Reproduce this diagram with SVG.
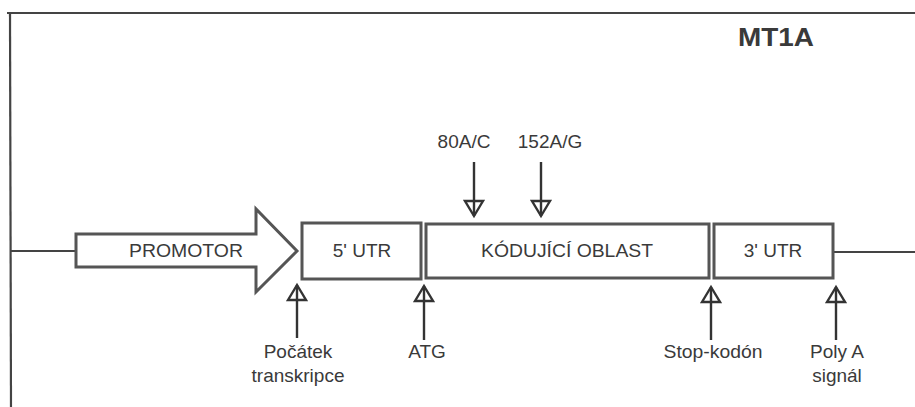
<svg xmlns="http://www.w3.org/2000/svg" width="915" height="407" viewBox="0 0 915 407">
<style>
.ln{stroke:#444;stroke-width:2.2;fill:none}
.bx{stroke:#555;stroke-width:3;fill:#fff}
.t{font-family:"Liberation Sans",Arial,sans-serif;font-size:19px;fill:#3a3a3a;text-anchor:middle}
.ar{stroke:#333;stroke-width:2.4;fill:none;marker-end:url(#hd)}
</style>
<defs>
<marker id="hd" markerUnits="userSpaceOnUse" viewBox="0 0 22 22" refX="18" refY="11" markerWidth="22" markerHeight="22" orient="auto">
<path d="M3,2 L18,11 L3,20 Z" fill="none" stroke="#333" stroke-width="2.4" stroke-linejoin="miter"/>
</marker>
</defs>
<g id="frame">
<line class="ln" x1="7" y1="13" x2="915" y2="13" stroke="#777"/>
<line class="ln" x1="10" y1="13" x2="11" y2="407" stroke="#777"/>
</g>
<text id="title" x="776" y="46" font-family="Liberation Sans,Arial,sans-serif" font-size="25" font-weight="bold" fill="#3a3a3a" text-anchor="middle" textLength="76" lengthAdjust="spacingAndGlyphs">MT1A</text>
<g id="connectors">
<line class="ln" x1="11" y1="251" x2="76" y2="251"/>
<line class="ln" x1="833" y1="252" x2="915" y2="252"/>
<line class="ar" x1="474" y1="162" x2="474" y2="216"/>
<line class="ar" x1="541" y1="162" x2="541" y2="216"/>
<line class="ar" x1="297" y1="338" x2="297" y2="285"/>
<line class="ar" x1="424" y1="340" x2="424" y2="286"/>
<line class="ar" x1="711" y1="340" x2="711" y2="287"/>
<line class="ar" x1="836" y1="340" x2="836" y2="287"/>
</g>
<g id="promotor">
<path class="bx" d="M76,234 L256,234 L256,209 L297,251 L256,292 L256,267 L76,267 Z"/>
<text class="t" x="186" y="257" textLength="114" lengthAdjust="spacingAndGlyphs">PROMOTOR</text>
</g>
<g id="utr5">
<rect class="bx" x="302" y="223" width="119" height="56"/>
<text class="t" x="362" y="257">5' UTR</text>
</g>
<g id="coding">
<rect class="bx" x="426" y="224" width="283" height="54"/>
<text class="t" x="567" y="257" textLength="172" lengthAdjust="spacingAndGlyphs">KÓDUJÍCÍ OBLAST</text>
</g>
<g id="utr3">
<rect class="bx" x="714" y="224" width="119" height="54"/>
<text class="t" x="773" y="257">3' UTR</text>
</g>
<g id="labels">
<text class="t" x="464" y="148">80A/C</text>
<text class="t" x="550" y="148">152A/G</text>
<text class="t" x="298" y="358">Počátek</text>
<text class="t" x="298" y="382">transkripce</text>
<text class="t" x="427" y="358">ATG</text>
<text class="t" x="713" y="358" textLength="99" lengthAdjust="spacingAndGlyphs">Stop-kodón</text>
<text class="t" x="837" y="358">Poly A</text>
<text class="t" x="837" y="382">signál</text>
</g>
</svg>
